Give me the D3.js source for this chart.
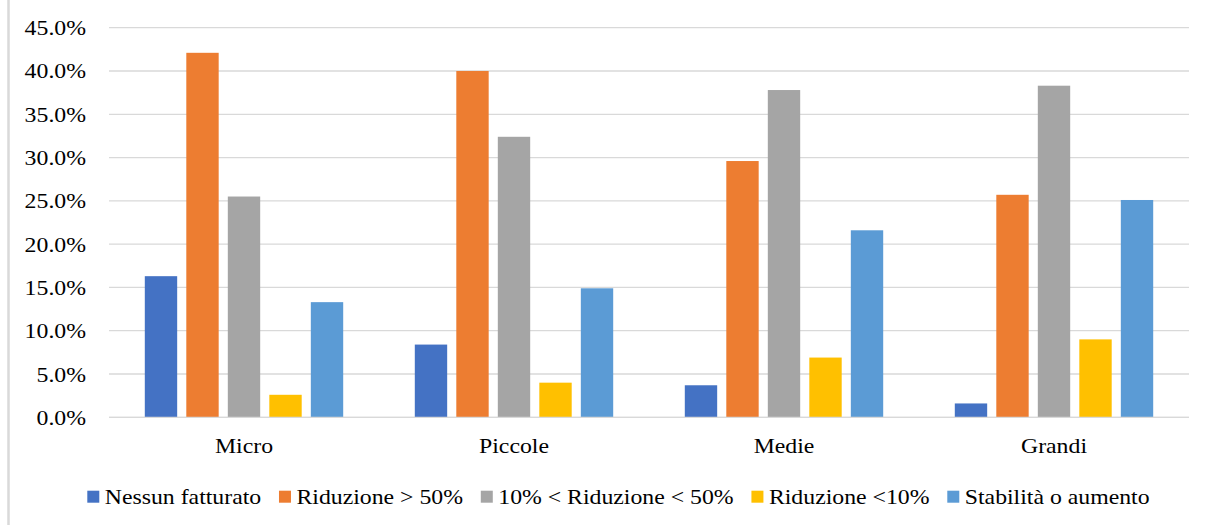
<!DOCTYPE html>
<html>
<head>
<meta charset="utf-8">
<script src="https://cdn.jsdelivr.net/npm/d3@7"></script>
<style>
  html, body { margin: 0; padding: 0; background: #fff; }
  svg { display: block; }
  text { font-family: "Liberation Serif", "Times New Roman", serif; fill: #000; }
</style>
</head>
<body>
<svg id="chart" width="1205" height="525"></svg>
<script>
// ---- data ----
const categories = ["Micro", "Piccole", "Medie", "Grandi"];
const seriesNames = ["Nessun fatturato", "Riduzione > 50%", "10% < Riduzione < 50%", "Riduzione <10%", "Stabilità o aumento"];
const seriesColors = ["#4472C4", "#ED7D31", "#A5A5A5", "#FFC000", "#5B9BD5"];
const nessunFatturato   = [0.163, 0.084, 0.037, 0.016];
const riduzioneOltre50  = [0.421, 0.400, 0.296, 0.257];
const riduzione10a50    = [0.255, 0.324, 0.378, 0.383];
const riduzioneSotto10  = [0.026, 0.040, 0.069, 0.090];
const stabilitaAumento  = [0.133, 0.149, 0.216, 0.251];
const yTicks = [0, 0.05, 0.10, 0.15, 0.20, 0.25, 0.30, 0.35, 0.40, 0.45];

const seriesValues = [nessunFatturato, riduzioneOltre50, riduzione10a50, riduzioneSotto10, stabilitaAumento];

// ---- layout ----
const svg = d3.select("#chart");
const plotLeft = 109, plotRight = 1189, plotTop = 27.7, plotBottom = 417.3;
const stretch = 1.08;
const fontSize = 22;

function stretchText(sel) {
  sel.each(function() {
    const len = this.getComputedTextLength();
    d3.select(this).attr("textLength", len * stretch).attr("lengthAdjust", "spacingAndGlyphs");
  });
}

// chart area left border
svg.append("line")
  .attr("x1", 8.5).attr("x2", 8.5).attr("y1", 0).attr("y2", 525)
  .attr("stroke", "#D9D9D9").attr("stroke-width", 2.5);

const y = d3.scaleLinear().domain([0, 0.45]).range([plotBottom, plotTop]);
const x0 = d3.scaleBand().domain(categories).range([plotLeft, plotRight]).padding(0);
const groupWidth = 198.4;
const x1 = d3.scaleBand().domain(seriesNames).range([0, groupWidth]).paddingInner(0.22).paddingOuter(0);
const groupOffset = (x0.bandwidth() - groupWidth) / 2;

// gridlines
svg.append("g").selectAll("line").data(yTicks).join("line")
  .attr("x1", plotLeft).attr("x2", plotRight)
  .attr("y1", d => y(d)).attr("y2", d => y(d))
  .attr("stroke", "#D9D9D9").attr("stroke-width", 1.3);

// y axis labels
const fmt = d3.format(".1%");
svg.append("g").selectAll("text").data(yTicks).join("text")
  .attr("x", 86).attr("y", d => y(d) + 7.5)
  .attr("text-anchor", "end")
  .attr("font-family", "Liberation Serif, Times New Roman, serif")
  .attr("font-size", fontSize)
  .text(d => fmt(d))
  .call(stretchText);

// bars
const flat = [];
categories.forEach((c, ci) => {
  seriesNames.forEach((s, si) => {
    flat.push({ cat: c, series: s, color: seriesColors[si], value: seriesValues[si][ci] });
  });
});
svg.append("g").selectAll("rect").data(flat).join("rect")
  .attr("x", d => x0(d.cat) + groupOffset + x1(d.series))
  .attr("width", x1.bandwidth())
  .attr("y", d => y(d.value))
  .attr("height", d => y(0) - y(d.value))
  .attr("fill", d => d.color);

// baseline redraw on top
svg.append("line")
  .attr("x1", plotLeft).attr("x2", plotRight)
  .attr("y1", y(0)).attr("y2", y(0))
  .attr("stroke", "#D9D9D9").attr("stroke-width", 1.3);

// category labels
svg.append("g").selectAll("text").data(categories).join("text")
  .attr("x", d => x0(d) + x0.bandwidth() / 2)
  .attr("y", 452.7)
  .attr("text-anchor", "middle")
  .attr("font-family", "Liberation Serif, Times New Roman, serif")
  .attr("font-size", fontSize)
  .text(d => d)
  .call(stretchText);

// legend
const legend = svg.append("g");
let lx = 87.3;
seriesNames.forEach((s, i) => {
  legend.append("rect")
    .attr("x", lx).attr("y", 490.7).attr("width", 12).attr("height", 12)
    .attr("fill", seriesColors[i]);
  const t = legend.append("text")
    .attr("x", lx + 17.5).attr("y", 504.3)
    .attr("font-family", "Liberation Serif, Times New Roman, serif")
    .attr("font-size", fontSize)
    .text(s);
  const len = t.node().getComputedTextLength() * stretch;
  t.attr("textLength", len).attr("lengthAdjust", "spacingAndGlyphs");
  lx += 17.5 + len + 17.8;
});
</script>
</body>
</html>
